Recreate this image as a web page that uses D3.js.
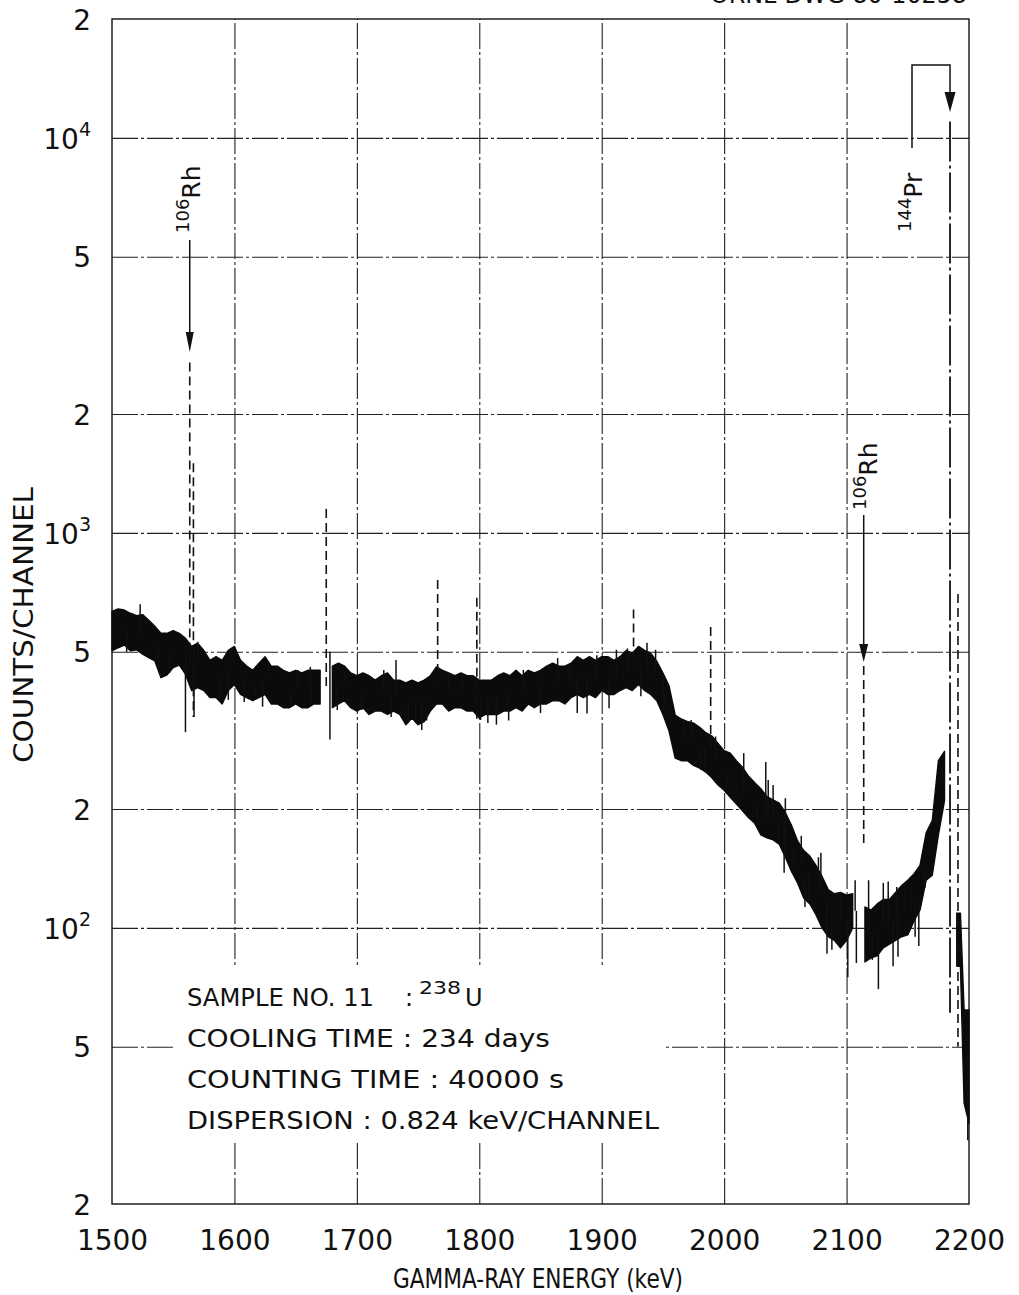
<!DOCTYPE html>
<html><head><meta charset="utf-8">
<script src="https://cdn.jsdelivr.net/npm/d3@7"></script>
<style>body{margin:0;background:#fff}</style>
</head><body>
<svg id="c" width="1019" height="1295" xmlns="http://www.w3.org/2000/svg"></svg>
<script>
// ---------- DATA ----------
const xTicks = [1500, 1600, 1700, 1800, 1900, 2000, 2100, 2200];
const yTickValues = [20, 50, 100, 200, 500, 1000, 2000, 5000, 10000, 20000];
const yTickMantissa = ["2", "5", "10", "2", "5", "10", "2", "5", "10", "2"];
const yTickExponent = ["", "", "2", "", "", "3", "", "", "4", ""];
const gridY = [50, 100, 200, 500, 1000, 2000, 5000, 10000];
const gridX = [1600, 1700, 1800, 1900, 2000, 2100];

// continuum noise band sampled every 5 keV: energy, lower and upper edge (counts/channel)
const bandEnergy = [1500,1505,1510,1515,1520,1525,1530,1535,1540,1545,1550,1555,1560,1565,1570,1575,1580,1585,1590,1595,
  1600,1605,1610,1615,1620,1625,1630,1635,1640,1645,1650,1655,1660,1665,1670,1675,1680,1685,1690,1695,
  1700,1705,1710,1715,1720,1725,1730,1735,1740,1745,1750,1755,1760,1765,1770,1775,1780,1785,1790,1795,
  1800,1805,1810,1815,1820,1825,1830,1835,1840,1845,1850,1855,1860,1865,1870,1875,1880,1885,1890,1895,
  1900,1905,1910,1915,1920,1925,1930,1935,1940,1945,1950,1955,1960,1965,1970,1975,1980,1985,1990,1995,
  2000,2005,2010,2015,2020,2025,2030,2035,2040,2045,2050,2055,2060,2065,2070,2075,2080,2085,2090,2095,
  2100,2105,2110,2115,2120,2125,2130,2135,2140,2145,2150,2155,2160,2165,2170,2175,2180,2185,2190,2193,2196,2200];
const bandLow = [503,512,520,503,506,493,483,474,430,437,456,463,439,399,406,399,383,383,369,399,
  413,390,383,376,383,390,369,369,361,361,369,361,361,369,369,null,361,369,376,361,
  354,361,347,354,354,347,354,347,327,340,327,333,354,369,369,354,361,361,354,354,
  340,347,347,347,354,354,361,354,369,361,369,369,376,376,369,383,390,383,390,383,
  399,390,390,399,406,399,413,399,390,376,347,315,269,265,265,258,254,248,240,230,
  223,214,206,198,190,184,172,169,167,163,151,139,130,119,115,108,100,95,93,89,
  93,100,null,82,84,85,89,91,93,95,96,104,111,132,136,172,210,null,80,80,36,32];
const bandHigh = [633,642,638,626,617,621,601,580,557,557,566,557,541,516,526,504,476,486,476,504,
  516,476,460,449,468,486,460,460,449,442,449,442,449,449,449,null,460,468,460,442,
  435,442,435,424,435,442,424,424,417,424,417,424,435,458,449,442,435,442,435,435,
  424,424,424,435,442,435,449,435,449,442,449,460,468,460,460,468,486,476,486,476,
  486,486,476,486,504,496,516,504,496,473,442,410,346,338,333,330,322,312,306,293,
  281,277,265,255,242,233,225,215,211,207,196,182,166,157,152,144,135,125,122,123,
  121,122,null,113,111,115,118,118,123,128,132,137,144,174,187,265,280,null,109,109,62,62];

// single-channel excursions outside the band: energy (keV), tip value (counts/channel)
const spikeEnergy = [1512,1523,1538,1547,1560,1567,1568,1570,1588,1595,1608,1617,1623,1628,1646,1652,1662,1663,1678,1684,
  1690,1704,1722,1728,1732,1742,1748,1753,1757,1775,1786,1801,1807,1814,1824,1836,1850,1864,1874,1880,
  1888,1896,1906,1912,1921,1923,1932,1937,1944,1950,1951,1967,1973,1981,1984,1993,2003,2010,2016,2027,
  2034,2036,2040,2044,2049,2050,2057,2063,2066,2069,2077,2079,2084,2088,2095,2101,2107,2108,2118,2121,
  2126,2130,2134,2138,2141,2142,2148,2153,2156,2159,2163,2164,2168,2199];
const spikeValue = [500,660,455,442,313,342,470,530,386,378,373,386,363,472,363,450,458,371,500,356,
  450,356,450,342,477,330,330,317,335,442,435,336,330,327,335,450,350,482,467,350,
  349,490,360,506,510,500,386,527,506,442,356,336,336,251,251,305,228,216,277,188,
  263,237,230,167,138,213,143,171,113,116,151,155,86,88,123,75,132,81.5,132,83,
  70,130,131,80,127,84.5,130,130,95,90,140,140,160,29];

// full-energy peaks: energy, top and bottom of the drawn channel trace (counts/channel)
const peakEnergy = [1563.5, 1566.5, 1675, 1766, 1798, 1926, 1989, 2114, 2184.5, 2191];
const peakTop    = [2700, 1500, 1150, 760, 685, 640, 578, 460, 11000, 700];
const peakBottom = [460, 342, 400, 400, 336, 450, 280, 164, 61, 50];

// nuclide annotations
const annotEnergy = [1563.5, 2114, 2184.5];
const annotMass = ["106", "106", "144"];
const annotElement = ["Rh", "Rh", "Pr"];

// ---------- CHART ----------
const L = 112, R = 969, T = 19, B = 1204;
const FONT = "'DejaVu Sans', sans-serif";
const INK = "#111";
const x = d3.scaleLinear().domain([1500, 2200]).range([L, R]);
const y = d3.scaleLog().domain([20, 20000]).range([B, T]);
const svg = d3.select("#c");
svg.append("rect").attr("width", 1019).attr("height", 1295).attr("fill", "#fff");

// grid via axes
const gx = svg.append("g").attr("transform", `translate(0,${B})`)
  .call(d3.axisBottom(x).tickValues(gridX).tickSize(-(B - T)).tickFormat(""));
gx.select(".domain").remove();
gx.selectAll("line").attr("stroke", "#222").attr("stroke-width", 1.1).attr("stroke-dasharray", "26,3,3,3");
const gy = svg.append("g").attr("transform", `translate(${L},0)`)
  .call(d3.axisLeft(y).tickValues(gridY).tickSize(-(R - L)).tickFormat(""));
gy.select(".domain").remove();
gy.selectAll("line").attr("stroke", "#222").attr("stroke-width", 1.1).attr("stroke-dasharray", "26,3,3,3");

// frame
svg.append("rect").attr("x", L).attr("y", T).attr("width", R - L).attr("height", B - T)
  .attr("fill", "none").attr("stroke", INK).attr("stroke-width", 1.4);

// x tick labels
const ax = svg.append("g").attr("transform", `translate(0,${B})`)
  .call(d3.axisBottom(x).tickValues(xTicks).tickSize(0).tickPadding(26).tickFormat(d3.format("d")));
ax.select(".domain").remove();
ax.selectAll("text").attr("font-family", FONT).attr("font-size", 28).attr("fill", INK);

// y tick labels with superscripts
const ay = svg.append("g").attr("transform", `translate(${L},0)`)
  .call(d3.axisLeft(y).tickValues(yTickValues).tickSize(0).tickPadding(21).tickFormat(""));
ay.select(".domain").remove();
ay.selectAll("text").each(function (d, i) {
  const t = d3.select(this).attr("font-family", FONT).attr("font-size", 28).attr("fill", INK).attr("dy", "0.36em");
  t.append("tspan").text(yTickMantissa[i]);
  if (yTickExponent[i]) t.append("tspan").attr("font-size", 19).attr("dy", -13).text(yTickExponent[i]);
});

// axis titles
svg.append("text").attr("x", 538).attr("y", 1288).attr("text-anchor", "middle")
  .attr("font-family", FONT).attr("font-size", 26).attr("fill", INK)
  .attr("textLength", 290).attr("lengthAdjust", "spacingAndGlyphs").text("GAMMA-RAY ENERGY (keV)");
svg.append("text").attr("transform", "translate(33,625) rotate(-90)").attr("text-anchor", "middle")
  .attr("font-family", FONT).attr("font-size", 26).attr("fill", INK)
  .attr("textLength", 276).attr("lengthAdjust", "spacingAndGlyphs").text("COUNTS/CHANNEL");

// drawing number (cut by the top edge, as in the source)
svg.append("text").attr("x", 967).attr("y", 3).attr("text-anchor", "end")
  .attr("font-family", FONT).attr("font-size", 24).attr("fill", INK)
  .attr("textLength", 257).attr("lengthAdjust", "spacingAndGlyphs").text("ORNL-DWG 80-10258");

// continuum band (area between lower and upper noise edges)
const bandPts = bandEnergy.map((e, i) => ({ e, lo: bandLow[i], hi: bandHigh[i] }));
const area = d3.area().defined(d => d.lo != null)
  .x(d => x(d.e)).y0(d => y(d.lo)).y1(d => y(d.hi));
svg.append("path").datum(bandPts).attr("d", area).attr("fill", "#0b0b0b")
  .attr("stroke", "#0b0b0b").attr("stroke-width", 1.4).attr("stroke-linejoin", "round");

// excursions
function bandMid(e) {
  const i = Math.max(0, d3.bisectRight(bandEnergy, e) - 1);
  const lo = bandLow[i], hi = bandHigh[i];
  return lo == null ? 300 : Math.sqrt(lo * hi);
}
svg.append("g").selectAll("line").data(spikeEnergy.map((e, i) => ({ e, v: spikeValue[i] }))).join("line")
  .attr("x1", d => x(d.e)).attr("x2", d => x(d.e))
  .attr("y1", d => y(bandMid(d.e))).attr("y2", d => y(d.v))
  .attr("stroke", INK).attr("stroke-width", 1.5);

// peaks (dotted channel traces; the intense 144Pr line is nearly continuous)
svg.append("g").selectAll("line").data(peakEnergy.map((e, i) => ({ e, top: peakTop[i], bot: peakBottom[i] }))).join("line")
  .attr("x1", d => x(d.e)).attr("x2", d => x(d.e))
  .attr("y1", d => y(d.top)).attr("y2", d => y(d.bot))
  .attr("stroke", INK).attr("stroke-width", d => d.top > 5000 ? 1.8 : 1.6)
  .attr("stroke-dasharray", d => d.top > 5000 ? "40,4,3,4" : "9,5");

// info box
svg.append("rect").attr("x", 176).attr("y", 966).attr("width", 488).attr("height", 174).attr("fill", "#fff");
const info = svg.append("g").attr("font-family", FONT).attr("font-size", 24).attr("fill", INK);
info.append("text").attr("x", 187).attr("y", 1006).attr("textLength", 187).attr("lengthAdjust", "spacingAndGlyphs").text("SAMPLE NO. 11");
info.append("text").attr("x", 405).attr("y", 1006).text(":");
info.append("text").attr("x", 419).attr("y", 994).attr("font-size", 18).attr("textLength", 42).attr("lengthAdjust", "spacingAndGlyphs").text("238");
info.append("text").attr("x", 465).attr("y", 1006).text("U");
info.append("text").attr("x", 187).attr("y", 1047).attr("textLength", 363).attr("lengthAdjust", "spacingAndGlyphs").text("COOLING TIME : 234 days");
info.append("text").attr("x", 187).attr("y", 1088).attr("textLength", 377).attr("lengthAdjust", "spacingAndGlyphs").text("COUNTING TIME : 40000 s");
info.append("text").attr("x", 187).attr("y", 1129).attr("textLength", 472).attr("lengthAdjust", "spacingAndGlyphs").text("DISPERSION : 0.824 keV/CHANNEL");

// annotations
function label(tx, ty, i) {
  const t = svg.append("text").attr("transform", `translate(${tx},${ty}) rotate(-90)`)
    .attr("font-family", FONT).attr("font-size", 25).attr("fill", INK);
  t.append("tspan").attr("font-size", 18).attr("dy", -11).text(annotMass[i]);
  t.append("tspan").attr("dy", 11).text(annotElement[i]);
}
function arrowHead(xx, tipY, w, h) {
  svg.append("path").attr("d", `M${xx},${tipY} L${xx - w / 2},${tipY - h} L${xx + w / 2},${tipY - h} Z`).attr("fill", INK);
}
// 106Rh (left)
const a0 = x(annotEnergy[0]);
svg.append("line").attr("x1", a0).attr("x2", a0).attr("y1", 240).attr("y2", 345).attr("stroke", INK).attr("stroke-width", 1.5);
arrowHead(a0, 352, 8, 20);
label(200, 233, 0);
// 106Rh (right)
const a1 = x(annotEnergy[1]);
svg.append("line").attr("x1", a1).attr("x2", a1).attr("y1", 515).attr("y2", 655).attr("stroke", INK).attr("stroke-width", 1.5);
arrowHead(a1, 662, 9, 18);
label(877, 510, 1);
// 144Pr with bracket
const a2 = x(annotEnergy[2]);
svg.append("path").attr("d", `M912,148 L912,65 L${a2},65 L${a2},100`).attr("fill", "none").attr("stroke", INK).attr("stroke-width", 1.5);
arrowHead(a2, 112, 11, 20);
label(922, 232, 2);
</script>
</body></html>
